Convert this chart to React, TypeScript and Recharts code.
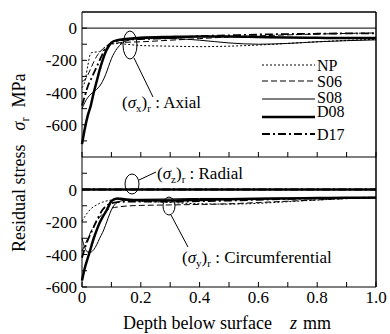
import React from "react";
import { LineChart, Line, XAxis, YAxis, ReferenceLine } from "recharts";

// depth below surface z (mm)
const depth = [0, 0.01, 0.02, 0.03, 0.04, 0.05, 0.06, 0.07, 0.08, 0.09, 0.1, 0.12, 0.15, 0.2, 0.3, 0.4, 0.5, 0.6, 0.7, 0.8, 0.9, 1.0];

// axial residual stress (sigma_x)r, MPa
const axialNP = [-370, -330, -230, -155, -150, -148, -146, -142, -130, -112, -100, -96, -100, -108, -112, -115, -112, -105, -95, -85, -76, -70];
const axialS06 = [-330, -320, -290, -250, -210, -175, -150, -130, -115, -105, -98, -92, -88, -85, -75, -65, -55, -48, -42, -37, -33, -30];
const axialS08 = [-500, -460, -430, -410, -395, -380, -360, -330, -290, -240, -190, -125, -80, -65, -65, -75, -92, -100, -95, -85, -78, -73];
const axialD08 = [-720, -620, -540, -480, -400, -330, -260, -200, -150, -115, -90, -75, -68, -60, -55, -52, -52, -55, -58, -60, -62, -62];
const axialD17 = [-480, -420, -360, -320, -280, -240, -200, -160, -125, -105, -92, -80, -72, -68, -62, -50, -45, -40, -37, -35, -33, -32];

// circumferential residual stress (sigma_y)r, MPa
const circNP = [-195, -165, -140, -120, -105, -95, -85, -78, -72, -68, -65, -62, -65, -72, -80, -88, -90, -85, -75, -65, -56, -50];
const circS06 = [-380, -340, -300, -260, -225, -195, -170, -150, -135, -123, -115, -108, -102, -98, -95, -92, -88, -80, -72, -64, -56, -50];
const circS08 = [-300, -360, -385, -385, -370, -340, -300, -265, -220, -170, -125, -80, -65, -60, -58, -55, -55, -55, -53, -52, -51, -50];
const circD08 = [-560, -480, -420, -360, -300, -250, -205, -170, -140, -105, -72, -55, -62, -66, -67, -64, -60, -57, -55, -53, -51, -50];
const circD17 = [-420, -360, -310, -270, -230, -190, -155, -125, -105, -92, -85, -78, -75, -75, -75, -72, -68, -63, -58, -55, -52, -50];

// radial residual stress (sigma_z)r, MPa
const radialAll = [0, 0, 0, 0, 0, 0, 0, 0, 0, 0, 0, 0, 0, 0, 0, 0, 0, 0, 0, 0, 0, 0];

const xTicks = [0, 0.1, 0.2, 0.3, 0.4, 0.5, 0.6, 0.7, 0.8, 0.9, 1.0];
const topYTicks = [0, -100, -200, -300, -400, -500, -600, -700];
const bottomYTicks = [100, 0, -100, -200, -300, -400, -500, -600];
const yLabels = [0, -200, -400, -600];

const series = [
  { key: "NP", width: 1, dash: "2 2" },
  { key: "S06", width: 1, dash: "6 3" },
  { key: "S08", width: 1, dash: undefined },
  { key: "D08", width: 2.5, dash: undefined },
  { key: "D17", width: 1.8, dash: "8 3 2 3" },
];

const axialRows = depth.map((z, i) => ({
  z,
  NP: axialNP[i],
  S06: axialS06[i],
  S08: axialS08[i],
  D08: axialD08[i],
  D17: axialD17[i],
}));

const circRows = depth.map((z, i) => ({
  z,
  NP: circNP[i],
  S06: circS06[i],
  S08: circS08[i],
  D08: circD08[i],
  D17: circD17[i],
  radial: radialAll[i],
}));

const serif = "'Liberation Serif', 'Times New Roman', serif";
const txt = { fontFamily: serif, fill: "#000" };

function YTick(props: any) {
  const { x, y, payload } = props;
  const v = payload.value;
  return (
    <g>
      <line x1={x + 5} x2={x + 10} y1={y} y2={y} stroke="#000" />
      {yLabels.includes(v) && (
        <text x={x} y={y} dy="0.355em" textAnchor="end" fontSize={17} style={txt}>
          {v === 0 ? "0" : "-" + Math.abs(v)}
        </text>
      )}
    </g>
  );
}

function XTickTop(props: any) {
  const { x, y } = props;
  return (
    <g>
      <line x1={x} x2={x} y1={y} y2={y - 5} stroke="#000" />
    </g>
  );
}

function XTickBottom(props: any) {
  const { x, y, payload } = props;
  const v = payload.value;
  const n = Math.round(v * 10);
  return (
    <g>
      <line x1={x} x2={x} y1={y - 4} y2={y - 9} stroke="#000" />
      {n % 2 === 0 && (
        <text x={x} y={y} dy="0.71em" textAnchor="middle" fontSize={17} style={txt}>
          {n === 0 ? "0" : v.toFixed(1)}
        </text>
      )}
    </g>
  );
}

function StressLabel({ x, y, sub, text }: { x: number; y: number; sub: string; text: string }) {
  return (
    <text x={x} y={y} fontSize={17} style={txt}>
      (<tspan fontStyle="italic">σ</tspan>
      <tspan fontSize={11} dy={4}>{sub}</tspan>
      <tspan dy={-4}>)</tspan>
      <tspan fontSize={11} dy={4}>r</tspan>
      <tspan dy={-4}>{text}</tspan>
    </text>
  );
}

export default function App() {
  return (
    <div style={{ position: "fixed", left: 0, top: 0, width: 390, height: 334, background: "#fff" }}>
      <div style={{ position: "absolute", left: 0, top: 0 }}>
        <LineChart width={390} height={158} data={axialRows} margin={{ top: 12, right: 14, left: 81, bottom: 0 }}>
          <XAxis
            dataKey="z"
            type="number"
            domain={[0, 1]}
            ticks={xTicks}
            interval={0}
            height={1}
            tickLine={false}
            tickSize={0}
            tickMargin={0}
            tick={(p: any) => <XTickTop {...p} />}
            stroke="#000"
          />
          <YAxis
            type="number"
            domain={[-800, 100]}
            allowDataOverflow
            ticks={topYTicks}
            interval={0}
            width={1}
            tickLine={false}
            tickSize={0}
            tickMargin={5}
            tick={(p: any) => <YTick {...p} />}
            stroke="#000"
          />
          <ReferenceLine y={100} stroke="#000" strokeWidth={1.5} />
          <ReferenceLine x={1} stroke="#000" strokeWidth={1.5} />
          <ReferenceLine y={0} stroke="#000" strokeWidth={1} />
          {series.map((s) => (
            <Line
              key={s.key}
              type="monotone"
              dataKey={s.key}
              stroke="#000"
              strokeWidth={s.width}
              strokeDasharray={s.dash}
              dot={false}
              isAnimationActive={false}
            />
          ))}
        </LineChart>
      </div>
      <div style={{ position: "absolute", left: 0, top: 157 }}>
        <LineChart width={390} height={177} data={circRows} margin={{ top: 0, right: 14, left: 81, bottom: 17 }}>
          <XAxis
            dataKey="z"
            type="number"
            domain={[0, 1]}
            ticks={xTicks}
            interval={0}
            height={30}
            tickLine={false}
            tickSize={0}
            tickMargin={4}
            tick={(p: any) => <XTickBottom {...p} />}
            stroke="#000"
          />
          <YAxis
            type="number"
            domain={[-600, 200]}
            allowDataOverflow
            ticks={bottomYTicks}
            interval={0}
            width={1}
            tickLine={false}
            tickSize={0}
            tickMargin={5}
            tick={(p: any) => <YTick {...p} />}
            stroke="#000"
          />
          <ReferenceLine x={1} stroke="#000" strokeWidth={1.5} />
          {series.map((s) => (
            <Line
              key={"r" + s.key}
              type="monotone"
              dataKey="radial"
              stroke="#000"
              strokeWidth={s.width}
              strokeDasharray={s.dash}
              dot={false}
              isAnimationActive={false}
            />
          ))}
          {series.map((s) => (
            <Line
              key={s.key}
              type="monotone"
              dataKey={s.key}
              stroke="#000"
              strokeWidth={s.width}
              strokeDasharray={s.dash}
              dot={false}
              isAnimationActive={false}
            />
          ))}
        </LineChart>
      </div>
      <svg width={390} height={334} style={{ position: "absolute", left: 0, top: 0, pointerEvents: "none" }}>
        {/* axis titles */}
        <text transform="rotate(-90)" x={-252} y={25} fontSize={18} style={txt}>
          Residual stress
          <tspan dx={14} fontStyle="italic">σ</tspan>
          <tspan fontSize={12} dy={4}>r</tspan>
          <tspan dy={-4} dx={10}>MPa</tspan>
        </text>
        <text x={123} y={329} fontSize={18} style={txt}>Depth below surface</text>
        <text x={290} y={329} fontSize={18} fontStyle="italic" style={txt}>z</text>
        <text x={303} y={329} fontSize={18} style={txt}>mm</text>

        {/* legend */}
        {series.map((s, i) => {
          const ly = [65, 81, 99, 117, 134][i];
          const ty = [71, 87, 103, 117, 140][i];
          return (
            <g key={s.key}>
              <line x1={262} x2={315} y1={ly} y2={ly} stroke="#000" strokeWidth={s.width} strokeDasharray={s.dash} />
              <text x={317} y={ty} fontSize={16} style={txt}>{s.key}</text>
            </g>
          );
        })}

        {/* annotations */}
        <ellipse cx={130} cy={45} rx={7} ry={14} fill="none" stroke="#000" />
        <line x1={134} y1={58} x2={153} y2={97} stroke="#000" />
        <StressLabel x={122} y={108} sub="x" text=" : Axial" />

        <ellipse cx={132} cy={184} rx={7} ry={10} fill="none" stroke="#000" />
        <line x1={139} y1={180} x2={156} y2={172} stroke="#000" />
        <StressLabel x={157} y={179} sub="z" text=" : Radial" />

        <ellipse cx={169} cy={206} rx={6} ry={9} fill="none" stroke="#000" />
        <line x1={171} y1={215} x2={188} y2={247} stroke="#000" />
        <StressLabel x={182} y={263} sub="y" text=" : Circumferential" />
      </svg>
    </div>
  );
}
